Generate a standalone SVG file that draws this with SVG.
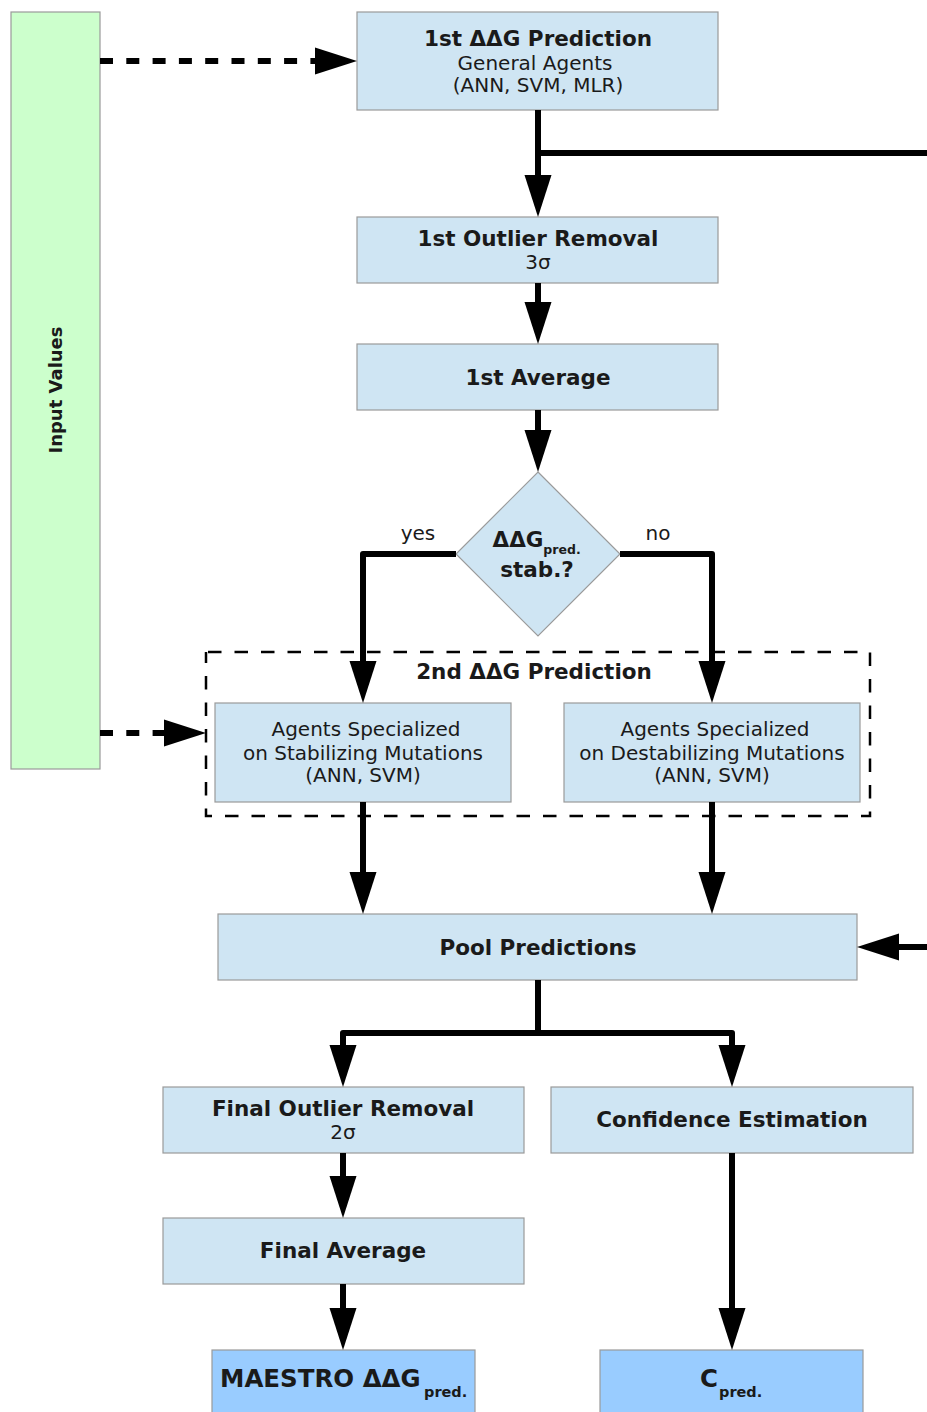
<svg xmlns="http://www.w3.org/2000/svg" width="927" height="1412" viewBox="0 0 927 1412">
<style>
  text { font-family: "DejaVu Sans", "Liberation Sans", sans-serif; fill: #1a1a1a; text-anchor: middle; }
  .b { font-weight: bold; font-size: 21.5px; }
  .r { font-size: 20px; }
  .box { fill: #cfe5f3; stroke: #9a9a9a; stroke-width: 1.2; }
  .out { fill: #99ccff; stroke: #9a9a9a; stroke-width: 1.2; }
  .in { fill: #ccffcc; stroke: #9a9a9a; stroke-width: 1.2; }
  .c { fill: none; stroke: #000; stroke-width: 6; stroke-linejoin: round; }
  .d { fill: none; stroke: #000; stroke-width: 6; stroke-dasharray: 13 13.3; }
  .grp { fill: none; stroke: #000; stroke-width: 2.5; stroke-dasharray: 13.5 13; stroke-dashoffset: -2; }
</style>
<defs>
  <marker id="ah" markerUnits="userSpaceOnUse" markerWidth="42" markerHeight="27" refX="2" refY="13.5" orient="auto" overflow="visible">
    <path d="M0,0 L42,13.5 L0,27 z" fill="#000"/>
  </marker>
</defs>

<g id="input-values">
  <rect class="in" x="11" y="12" width="89" height="757"/>
  <text class="b" style="font-size:18px" transform="translate(62,390) rotate(-90)">Input Values</text>
</g>

<g id="group-2nd-prediction">
  <rect class="grp" x="206" y="652" width="664" height="164"/>
  <text class="b" x="534" y="679">2nd ΔΔG Prediction</text>
</g>

<g id="first-prediction">
  <rect class="box" x="357" y="12" width="361" height="98"/>
  <text class="b" x="538" y="46">1st ΔΔG Prediction</text>
  <text class="r" x="535" y="70">General Agents</text>
  <text class="r" x="538" y="92">(ANN, SVM, MLR)</text>
</g>

<g id="first-outlier-removal">
  <rect class="box" x="357" y="217" width="361" height="66"/>
  <text class="b" x="538" y="246">1st Outlier Removal</text>
  <text class="r" x="538" y="269">3σ</text>
</g>

<g id="first-average">
  <rect class="box" x="357" y="344" width="361" height="66"/>
  <text class="b" x="538" y="385">1st Average</text>
</g>

<g id="decision">
  <polygon class="box" points="538,472 620,554 538,636 456,554"/>
  <text class="b" x="518" y="547">ΔΔG</text>
  <text class="b" style="font-size:12.5px" x="562" y="554">pred.</text>
  <text class="b" x="537" y="577">stab.?</text>
  <text class="r" x="418" y="540">yes</text>
  <text class="r" x="658" y="540">no</text>
</g>

<g id="agents-stabilizing">
  <rect class="box" x="215" y="703" width="296" height="99"/>
  <text class="r" x="366" y="736">Agents Specialized</text>
  <text class="r" x="363" y="760">on Stabilizing Mutations</text>
  <text class="r" x="363" y="782">(ANN, SVM)</text>
</g>

<g id="agents-destabilizing">
  <rect class="box" x="564" y="703" width="296" height="99"/>
  <text class="r" x="715" y="736">Agents Specialized</text>
  <text class="r" x="712" y="760">on Destabilizing Mutations</text>
  <text class="r" x="712" y="782">(ANN, SVM)</text>
</g>

<g id="pool-predictions">
  <rect class="box" x="218" y="914" width="639" height="66"/>
  <text class="b" x="538" y="955">Pool Predictions</text>
</g>

<g id="final-outlier-removal">
  <rect class="box" x="163" y="1087" width="361" height="66"/>
  <text class="b" x="343" y="1116">Final Outlier Removal</text>
  <text class="r" x="343" y="1139">2σ</text>
</g>

<g id="confidence-estimation">
  <rect class="box" x="551" y="1087" width="362" height="66"/>
  <text class="b" x="732" y="1127">Confidence Estimation</text>
</g>

<g id="final-average">
  <rect class="box" x="163" y="1218" width="361" height="66"/>
  <text class="b" x="343" y="1258">Final Average</text>
</g>

<g id="maestro-output">
  <rect class="out" x="212" y="1350" width="263" height="80"/>
  <text class="b" style="font-size:24.5px;text-anchor:start" x="220" y="1387">MAESTRO ΔΔG</text>
  <text class="b" style="font-size:14.5px;text-anchor:start" x="424" y="1397">pred.</text>
</g>

<g id="c-output">
  <rect class="out" x="600" y="1350" width="263" height="80"/>
  <text class="b" style="font-size:24.5px;text-anchor:start" x="700" y="1387">C</text>
  <text class="b" style="font-size:14.5px;text-anchor:start" x="719" y="1397">pred.</text>
</g>

<g id="connectors">
  <path class="d" d="M100,61 H317" marker-end="url(#ah)"/>
  <path class="d" d="M100,733 H166" marker-end="url(#ah)"/>
  <path class="c" d="M538,110 V177" marker-end="url(#ah)"/>
  <path class="c" d="M538,153 H930"/>
  <path class="c" d="M930,947 H897" marker-end="url(#ah)"/>
  <path class="c" d="M538,283 V304" marker-end="url(#ah)"/>
  <path class="c" d="M538,410 V432" marker-end="url(#ah)"/>
  <path class="c" d="M456,554 H363 V663" marker-end="url(#ah)"/>
  <path class="c" d="M620,554 H712 V663" marker-end="url(#ah)"/>
  <path class="c" d="M363,802 V874" marker-end="url(#ah)"/>
  <path class="c" d="M712,802 V874" marker-end="url(#ah)"/>
  <path class="c" d="M538,980 V1033 H343 V1047" marker-end="url(#ah)"/>
  <path class="c" d="M538,1033 H732 V1047" marker-end="url(#ah)"/>
  <path class="c" d="M343,1153 V1178" marker-end="url(#ah)"/>
  <path class="c" d="M343,1284 V1310" marker-end="url(#ah)"/>
  <path class="c" d="M732,1153 V1310" marker-end="url(#ah)"/>
</g>
</svg>
